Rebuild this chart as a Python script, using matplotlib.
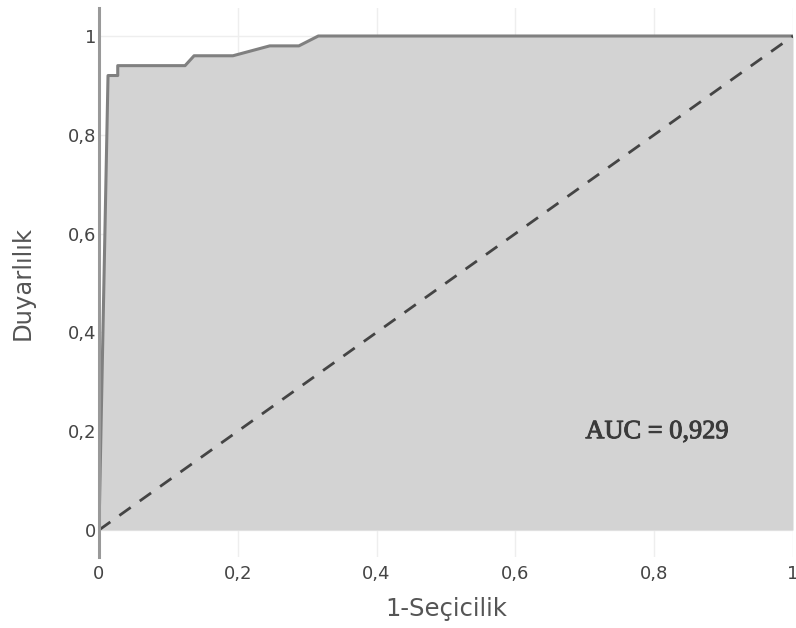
import numpy as np
import matplotlib.pyplot as plt
import matplotlib.patheffects as pe

# ROC curve points
fpr = [0, 0.013, 0.027, 0.027, 0.124, 0.137, 0.193, 0.246, 0.288, 0.316, 1.0]
tpr = [0, 0.92, 0.92, 0.94, 0.94, 0.96, 0.96, 0.98, 0.98, 1.0, 1.0]
diag = [0, 1]
ticks = [0, 0.2, 0.4, 0.6, 0.8, 1]
tick_labels = ['0', '0,2', '0,4', '0,6', '0,8', '1']
auc_text = 'AUC = 0,929'

fig = plt.figure(figsize=(7.96, 6.28), dpi=100)
ax = fig.add_axes([99 / 796, (628 - 557) / 628, 694 / 796, 549 / 628])

ax.fill_between(fpr, tpr, 0, color='#d3d3d3', lw=0, zorder=2)
ax.plot(fpr, tpr, color='#808080', lw=2.2, zorder=3)
ax.plot(diag, diag, color='#444444', lw=2, dashes=(5, 4), zorder=4)

ax.set_xlim(0, 1)
ax.set_ylim(-27 / 494, 1 + 28 / 494)
ax.set_xticks(ticks)
ax.set_xticklabels(tick_labels)
ax.set_yticks(ticks)
ax.set_yticklabels(tick_labels)
ax.tick_params(length=0, labelsize=13, colors='#444444')
ax.tick_params(axis='x', pad=6)
ax.tick_params(axis='y', pad=2)
ax.grid(True, color='#eeeeee', lw=1, zorder=0)
ax.set_axisbelow(True)

for s in ['top', 'right', 'bottom']:
    ax.spines[s].set_visible(False)
ax.spines['left'].set_color('#999999')
ax.spines['left'].set_linewidth(2.2)
ax.spines['left'].set_zorder(5)

ax.text(0.804, 0.198, auc_text, ha='center', va='center', fontsize=19,
        family='Liberation Serif', color='#3a3a3a', zorder=6,
        path_effects=[pe.withStroke(linewidth=0.7, foreground='#3a3a3a')])

ax.set_xlabel('1-Seçicilik', fontsize=17.5, color='#555555', labelpad=10)
ax.set_ylabel('Duyarlılık', fontsize=17.5, color='#555555', labelpad=24)

fig.savefig('out.png', dpi=100)
